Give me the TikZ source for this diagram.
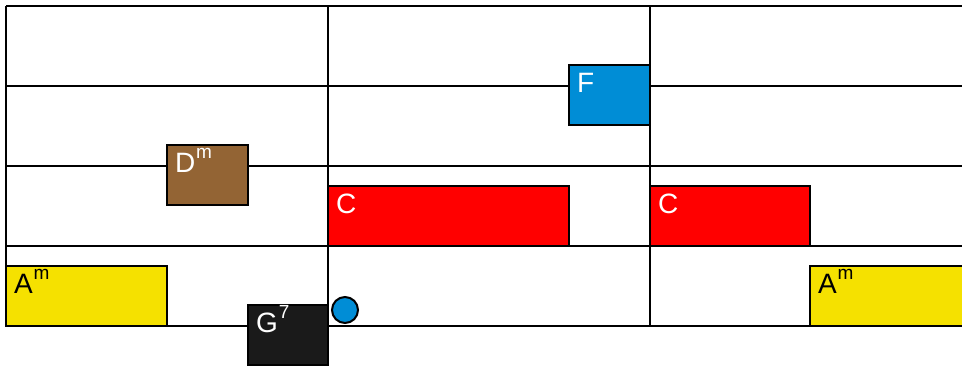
\documentclass[tikz,border=0pt]{standalone}
\usepackage{fontspec}
\setmainfont{Liberation Sans}
\usepackage{xcolor}
\usepackage{tikz}
\usetikzlibrary{positioning}
\definecolor{chordYellow}{RGB}{245,225,0}
\definecolor{chordBrown}{RGB}{147,100,52}
\definecolor{chordBlack}{RGB}{26,26,26}
\definecolor{chordBlue}{RGB}{0,141,214}
\definecolor{chordRed}{RGB}{255,0,0}
\newcommand{\chordname}[2]{#1\kern1pt\raisebox{14pt}{\fontsize{19}{19}\selectfont #2}}

\begin{document}
\begin{tikzpicture}[x=1pt,y=-1pt,
  staffline/.style={black, line width=2pt},
  chord/.style={draw=black, line width=2pt, anchor=north west, outer sep=0pt,
    inner xsep=8pt, inner ysep=7pt, text height=20pt, text depth=26pt,
    align=left, font=\fontsize{28}{30}\selectfont, text=white}]
\useasboundingbox (0,0) rectangle (962,365);

% staff
\foreach \y in {6,86,166,246,326}
{
    \draw[staffline] (6,\y) -- (962,\y);
}
\foreach \x in {6,328,650}
{
    \draw[staffline] (\x,6) -- (\x,326);
}

% chords
\node[chord, fill=chordYellow, text=black, text width=145pt] (amA) at (6,266) {\chordname{A}{m}};
\node[chord, fill=chordBrown, text width=65pt] (dm) at (167,145) {\chordname{D}{m}};
\node[chord, fill=chordBlack, text width=64pt] (gseven) at (248,305) {\chordname{G}{7}};
\node[chord, fill=chordRed, text width=225pt] (cA) at (328,186) {C};
\node[chord, fill=chordBlue, text width=65pt] (f) at (569,65) {F};
\node[chord, fill=chordRed, text width=144pt] (cB) at (650,186) {C};
\node[chord, fill=chordYellow, text=black, text width=144pt] (amB) at (810,266) {\chordname{A}{m}};

\node[draw=black, circle, fill=chordBlue, line width=2pt, minimum size=26pt, inner sep=0pt] (dot) at (345,310) {};
\end{tikzpicture}
\end{document}
